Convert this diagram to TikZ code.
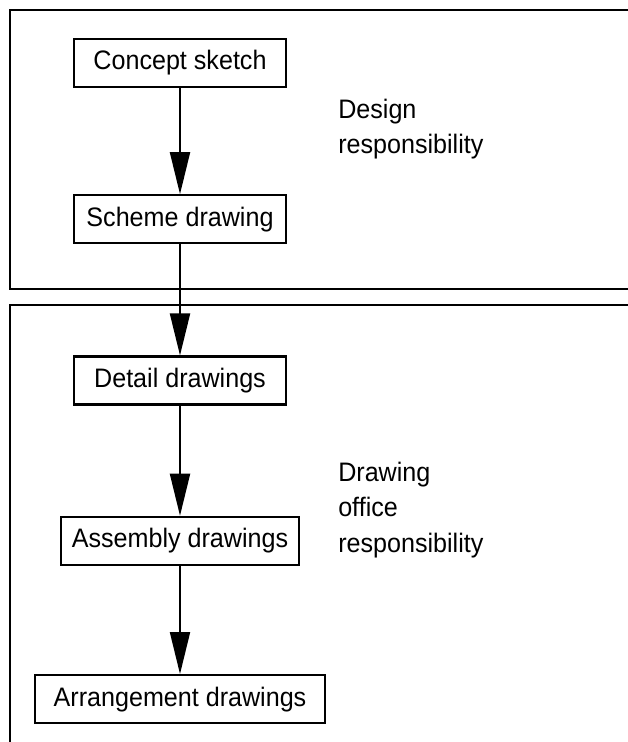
\documentclass[tikz,border=0pt]{standalone}
\usepackage{fontspec}
\setmainfont{Liberation Sans}[FakeStretch=0.94]
\usetikzlibrary{arrows.meta,positioning}
\tikzset{
  stage/.style={draw, line width=1.6pt, align=center, minimum height=1.2cm, inner sep=0pt, font=\fontsize{19}{25}\selectfont},
  duty/.style={align=left, anchor=west, inner sep=0pt, font=\fontsize{19}{25}\selectfont},
  panel/.style={line width=1.8pt},
  flow/.style={-{Triangle[length=1.05cm, width=0.5cm]}, line width=1.4pt}
}

\begin{document}
\begin{tikzpicture}[x=0.025cm, y=-0.025cm]
  \useasboundingbox (0,0) rectangle (628,742);
  % the two areas of responsibility, open to the right
  \draw[panel] (628,10) -- (10,10) -- (10,289) -- (628,289);
  \draw[panel] (628,305) -- (10,305) -- (10,742);
  \node[stage, minimum width=5.28cm] (concept) at (180,63) {Concept sketch};
  \node[stage, minimum width=5.28cm, below=2.65cm of concept] (scheme) {Scheme drawing};
  \node[stage, minimum width=5.28cm, below=2.775cm of scheme] (detail) {Detail drawings};
  \node[stage, minimum width=5.95cm, below=2.75cm of detail] (assembly) {Assembly drawings};
  \node[stage, minimum width=7.25cm, below=2.7cm of assembly] (arrangement) {Arrangement drawings};
  \node[duty] (design) at (338,129) {Design\\responsibility};
  \node[duty] (office) at (338,510) {Drawing\\office\\responsibility};
  \draw[flow] (concept) -- (scheme);
  \draw[flow] (scheme) -- (detail);
  \draw[flow] (detail) -- (assembly);
  \draw[flow] (assembly) -- (arrangement);
\end{tikzpicture}
\end{document}
